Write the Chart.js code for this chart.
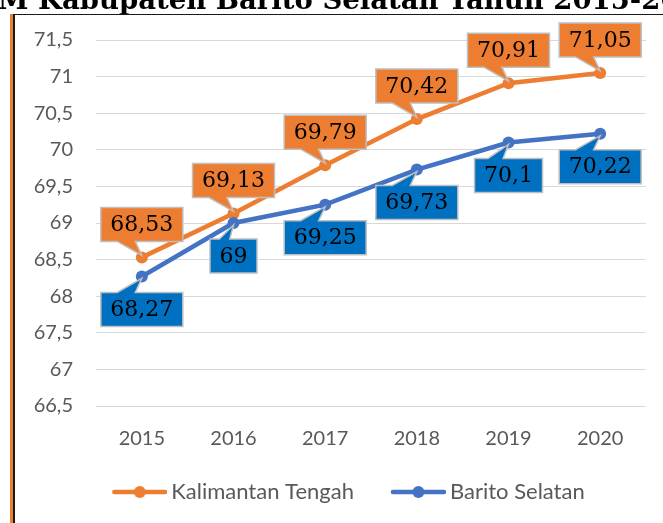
<!DOCTYPE html>
<html>
<head>
<meta charset="utf-8">
<script src="https://cdn.jsdelivr.net/npm/chart.js@4.4.1/dist/chart.umd.min.js"></script>
<style>
html,body{margin:0;padding:0;background:#fff;overflow:hidden;}
#wrap{position:relative;width:663px;height:523px;overflow:hidden;background:#fff;}
#chartBox{position:absolute;left:0;top:0;width:663px;height:523px;}
#title{position:absolute;left:-2px;top:-14px;font-family:"DejaVu Serif";font-weight:bold;font-size:27.5px;line-height:27.5px;white-space:nowrap;color:#000;}
#title .pre{position:absolute;right:100%;top:0;}
.fr{position:absolute;}
</style>
</head>
<body>
<div id="wrap">
  <div id="chartBox"><canvas id="c"></canvas></div>
  <div id="title"><span class="pre">IP</span>M Kabupaten Barito Selatan Tahun 2015-2020</div>
  <div class="fr" style="left:10px;top:14px;width:3px;height:509px;background:#ED7D31"></div>
  <div class="fr" style="left:13px;top:14px;width:2px;height:509px;background:#1a1a1a"></div>
  <div class="fr" style="left:13px;top:14px;width:650px;height:1px;background:#1a1a1a"></div>
</div>
<script>
// ---- data ----
const years = ['2015', '2016', '2017', '2018', '2019', '2020'];
const kalimantanTengah = [68.53, 69.13, 69.79, 70.42, 70.91, 71.05];
const baritoSelatan = [68.27, 69.00, 69.25, 69.73, 70.10, 70.22];
const seriesNames = ['Kalimantan Tengah', 'Barito Selatan'];
const yMin = 66.5, yMax = 71.5, yStep = 0.5;

// ---- styles ----
const ORANGE = '#ED7D31';
const BLUE_LINE = '#4472C4';
const BLUE_BOX = '#0070C0';
const AXIS_TEXT = '#595959';
const SANS = 'Lato';
const LABEL_FONT = '22px "DejaVu Serif"';

const fmt = v => String(v).replace('.', ',');

function legendImage(color) {
  const c = document.createElement('canvas');
  c.width = 89; c.height = 14;
  const g = c.getContext('2d');
  g.strokeStyle = color; g.lineWidth = 4.5; g.lineCap = 'round';
  g.beginPath(); g.moveTo(36, 7); g.lineTo(87, 7); g.stroke();
  g.fillStyle = color;
  g.beginPath(); g.arc(61.5, 7, 6, 0, Math.PI * 2); g.fill();
  return c;
}
const legendImgs = [legendImage(ORANGE), legendImage(BLUE_LINE)];

const calloutPlugin = {
  id: 'callouts',
  afterDatasetsDraw(chart) {
    const ctx = chart.ctx;
    ctx.save();
    ctx.font = LABEL_FONT;
    ctx.textAlign = 'center';
    ctx.textBaseline = 'middle';
    chart.data.datasets.forEach((ds, di) => {
      const meta = chart.getDatasetMeta(di);
      const above = ds.labelPos === 'above';
      meta.data.forEach((pt, i) => {
        const txt = fmt(ds.data[i]);
        const w = ctx.measureText(txt).width + 19;
        const h = 34, gap = 16;
        const cx = pt.x;
        const left = cx - w / 2, right = cx + w / 2;
        const b1 = cx - 0.3 * w, b2 = cx - 0.08 * w;
        let top, bottom;
        ctx.beginPath();
        if (above) {
          bottom = pt.y - gap; top = bottom - h;
          ctx.moveTo(left, top); ctx.lineTo(right, top); ctx.lineTo(right, bottom);
          ctx.lineTo(b2, bottom); ctx.lineTo(pt.x, pt.y - 2); ctx.lineTo(b1, bottom);
          ctx.lineTo(left, bottom); ctx.closePath();
        } else {
          top = pt.y + gap; bottom = top + h;
          ctx.moveTo(left, top); ctx.lineTo(b1, top); ctx.lineTo(pt.x, pt.y + 2); ctx.lineTo(b2, top);
          ctx.lineTo(right, top); ctx.lineTo(right, bottom); ctx.lineTo(left, bottom); ctx.closePath();
        }
        ctx.fillStyle = ds.labelFill;
        ctx.fill();
        ctx.lineWidth = 1.5;
        ctx.strokeStyle = '#BFBFBF';
        ctx.stroke();
        ctx.fillStyle = '#000';
        ctx.fillText(txt, cx, (top + bottom) / 2 + 1);
      });
    });
    ctx.restore();
  }
};

new Chart(document.getElementById('c'), {
  type: 'line',
  data: {
    labels: years,
    datasets: [
      {
        label: seriesNames[0], data: kalimantanTengah,
        borderColor: ORANGE, backgroundColor: ORANGE, borderWidth: 4.5,
        pointRadius: 6, pointHoverRadius: 6, pointBackgroundColor: ORANGE, pointBorderWidth: 0,
        tension: 0, labelPos: 'above', labelFill: ORANGE, order: 1
      },
      {
        label: seriesNames[1], data: baritoSelatan,
        borderColor: BLUE_LINE, backgroundColor: BLUE_LINE, borderWidth: 4.5,
        pointRadius: 6, pointHoverRadius: 6, pointBackgroundColor: BLUE_LINE, pointBorderWidth: 0,
        tension: 0, labelPos: 'below', labelFill: BLUE_BOX, order: 0
      }
    ]
  },
  options: {
    responsive: true, maintainAspectRatio: false, animation: false, devicePixelRatio: 1,
    layout: { padding: { top: 40, right: 17, bottom: 10, left: 24 } },
    plugins: {
      tooltip: { enabled: false },
      title: { display: false },
      legend: {
        position: 'bottom',
        labels: {
          usePointStyle: true, pointStyleWidth: 75, boxHeight: 19, padding: 10,
          color: AXIS_TEXT, font: { family: SANS, size: 22 },
          generateLabels(chart) {
            const items = Chart.defaults.plugins.legend.labels.generateLabels(chart);
            items.sort((a, b) => a.datasetIndex - b.datasetIndex);
            items.forEach(it => { it.pointStyle = legendImgs[it.datasetIndex]; });
            return items;
          }
        }
      }
    },
    scales: {
      x: {
        offset: true,
        grid: { display: false, drawTicks: false },
        border: { display: false },
        ticks: { padding: 21, color: AXIS_TEXT, font: { family: SANS, size: 20 } },
        afterFit(s) { s.height = 65; }
      },
      y: {
        min: yMin, max: yMax,
        grid: { color: '#D9D9D9', lineWidth: 1, drawTicks: false },
        border: { display: false },
        ticks: { stepSize: yStep, padding: 23, color: AXIS_TEXT, font: { family: SANS, size: 20 }, callback: v => fmt(v) },
        afterFit(s) { s.width = 72; }
      }
    }
  },
  plugins: [calloutPlugin]
});
</script>
</body>
</html>
